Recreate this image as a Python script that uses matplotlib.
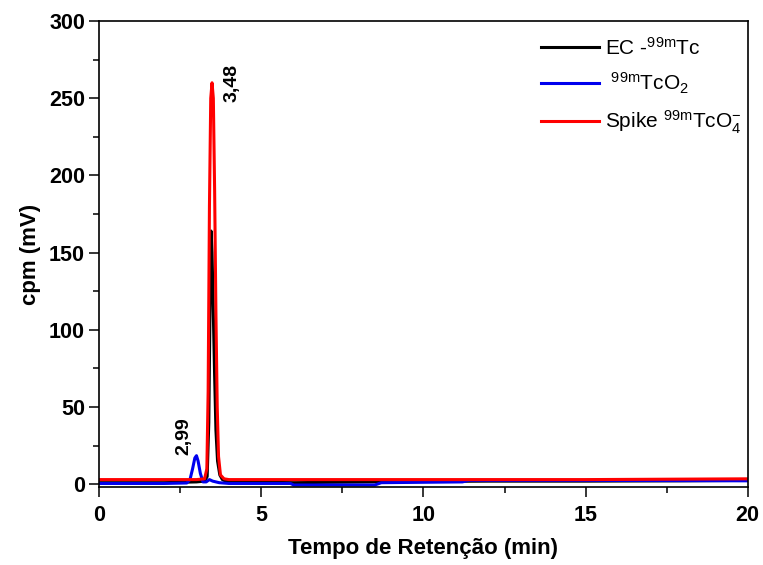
import matplotlib
matplotlib.use("Agg")
import matplotlib.pyplot as plt
from matplotlib.ticker import MultipleLocator

plt.rcParams['font.family'] = ['Liberation Sans', 'DejaVu Sans']
plt.rcParams['mathtext.fontset'] = 'custom'
plt.rcParams['mathtext.rm'] = 'Liberation Sans'
plt.rcParams['mathtext.default'] = 'regular'

# chromatogram traces (retention time in min, signal in mV)
ec_time = [0, 1, 2, 3, 3.25, 3.33, 3.38, 3.42, 3.45, 3.48, 3.52, 3.56, 3.6,
           3.65, 3.72, 3.8, 3.9, 4.2, 6, 8.3, 10, 12, 15, 18, 20]
ec_cpm = [1, 1, 1, 1.5, 2, 5, 40, 120, 164, 150, 110, 70, 35,
          15, 6, 3, 2, 1.5, 1, 1.5, 1.8, 2, 2, 2.2, 2.5]

tco2_time = [0, 2.0, 2.7, 2.8, 2.88, 2.95, 3.0, 3.05, 3.12, 3.2, 3.3, 3.4,
             3.5, 3.7, 4.0, 5.9, 6.0, 8.5, 8.7, 11.2, 11.4, 15, 20]
tco2_cpm = [0.5, 0.5, 0.8, 3, 10, 17, 18.5, 15, 7, 1.5, 1.5, 3,
            2, 1, 0.5, 0.5, -0.5, -0.5, 1, 1.5, 2.5, 2.5, 2.2]

spike_time = [0, 2, 3.0, 3.25, 3.32, 3.36, 3.40, 3.44, 3.48, 3.52, 3.56,
              3.60, 3.64, 3.68, 3.74, 3.85, 4.0, 6, 10, 15, 20]
spike_cpm = [3, 3, 3, 3.5, 10, 60, 180, 250, 260, 250, 190,
             110, 50, 18, 6, 3.5, 3, 3, 3, 3, 3.5]

peak_labels = ["2,99", "3,48"]
peak_label_pos = [(2.62, 31), (4.11, 260)]

fig = plt.figure(figsize=(7.63, 5.65), dpi=100)
ax = fig.add_axes([0.130, 0.1375, 0.850, 0.8253])

ax.plot(ec_time, ec_cpm, color='black', lw=2.2, label=r'EC -$^{99m}$Tc')
ax.plot(tco2_time, tco2_cpm, color='#0000ee', lw=2.2, label=r' $^{99m}$TcO$_2$')
ax.plot(spike_time, spike_cpm, color='#ff0000', lw=2.2,
        label=r'Spike $^{99m}$TcO$_4^{-}$')

for txt, (px, py) in zip(peak_labels, peak_label_pos):
    ax.text(px, py, txt, rotation=90, ha='center', va='center',
            fontsize=14, fontweight='bold')

ax.set_xlim(0, 20)
ax.set_ylim(-2, 300)
ax.xaxis.set_major_locator(MultipleLocator(5))
ax.xaxis.set_minor_locator(MultipleLocator(2.5))
ax.yaxis.set_major_locator(MultipleLocator(50))
ax.yaxis.set_minor_locator(MultipleLocator(25))
ax.tick_params(which='major', direction='out', length=7.2, width=1.1,
               labelsize=15.5, top=False, right=False, pad=3)
ax.tick_params(which='minor', direction='out', length=4.3, width=1.1,
               top=False, right=False)
ax.tick_params(axis='x', which='major', pad=5.5)
for lbl in ax.get_xticklabels() + ax.get_yticklabels():
    lbl.set_fontweight('bold')
for sp in ax.spines.values():
    sp.set_linewidth(1.2)

ax.set_xlabel('Tempo de Retenção (min)', fontsize=16, fontweight='bold',
              labelpad=9)
ax.set_ylabel('cpm (mV)', fontsize=16, fontweight='bold', labelpad=6)

ax.legend(loc='upper right', bbox_to_anchor=(1.008, 0.991), frameon=False,
          fontsize=15, handlelength=2.75, labelspacing=0.6,
          handletextpad=0.3, borderaxespad=0.2, borderpad=0.35)

fig.savefig('out.png', dpi=100)
